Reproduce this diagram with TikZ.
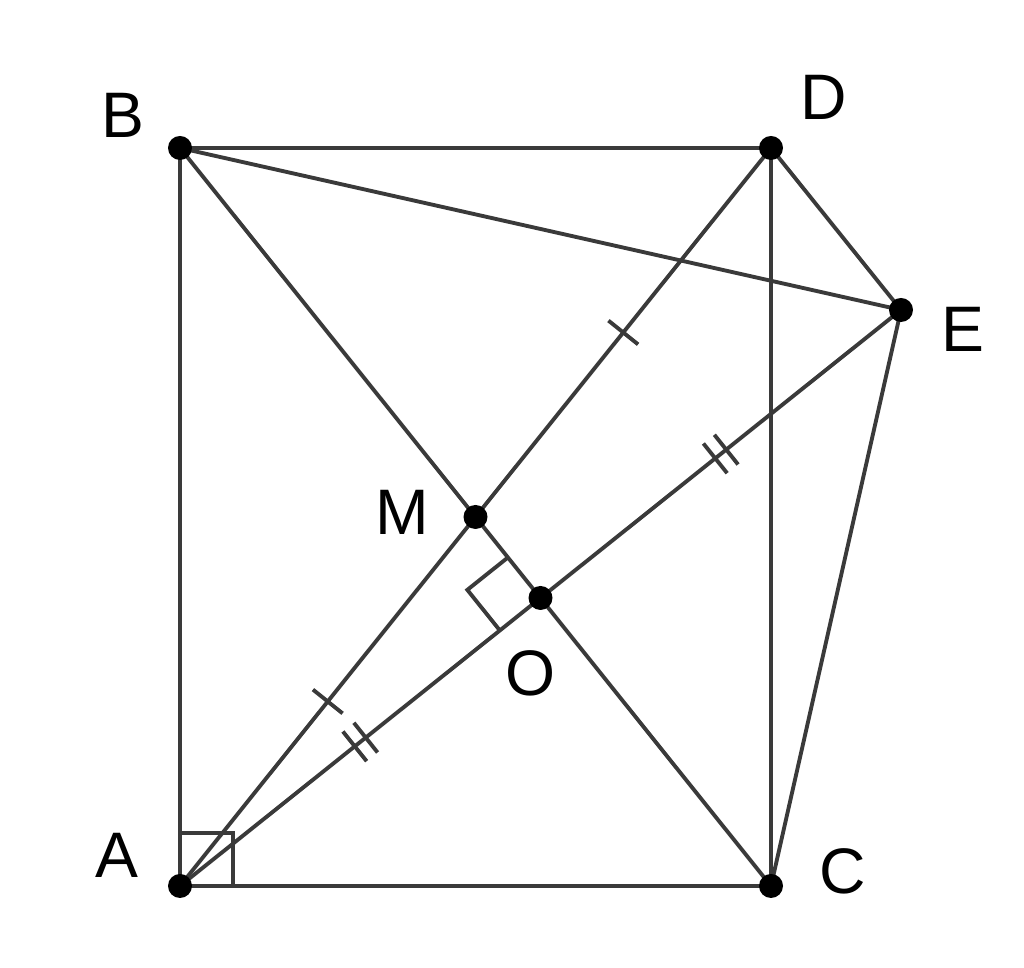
\documentclass[tikz,border=0pt]{standalone}
\usepackage{fontspec}
\setmainfont{Liberation Sans}
\usetikzlibrary{calc}
\definecolor{linegray}{HTML}{3A3A3A}
\tikzset{
  seg/.style={draw=linegray, line width=1.1pt},
  pt/.style={circle, fill=black, inner sep=0pt, minimum size=0.24cm},
  lbl/.style={inner sep=0pt, font=\fontsize{18.3}{20}\selectfont},
  tick/.style={draw=linegray, line width=1.1pt}
}
\begin{document}
\begin{tikzpicture}
\useasboundingbox (0,0) rectangle (10.24,9.68);
\coordinate (A) at (1.80,0.82);
\coordinate (B) at (1.80,8.20);
\coordinate (C) at (7.71,0.82);
\coordinate (D) at (7.71,8.20);
\coordinate (E) at (9.01,6.58);
\coordinate (M) at ($(A)!0.5!(D)$);
\coordinate (O) at ($(A)!0.5!(E)$);
% main segments
\draw[seg] (A) -- (B);
\draw[seg] (B) -- (D);
\draw[seg] (A) -- (C);
\draw[seg] (D) -- (C);
\draw[seg] (B) -- (E);
\draw[seg] (D) -- (E);
\draw[seg] (E) -- (C);
\draw[seg] (B) -- (C);
\draw[seg] (A) -- (D);
\draw[seg] (A) -- (E);
% right angle at A
\draw[seg] (A) rectangle ++(0.53,0.53);
% right angle at O
\coordinate (Om) at ($(O)!0.52cm!(M)$);
\coordinate (Oa) at ($(O)!0.52cm!(A)$);
\coordinate (Oc) at ($(Om)+(Oa)-(O)$);
\draw[seg] (Om) -- (Oc) -- (Oa);
% single ticks
\coordinate (t1) at ($(A)!0.5!(M)$);
\draw[tick] ($(t1)!0.19cm!90:(M)$) -- ($(t1)!0.19cm!-90:(M)$);
\coordinate (t2) at ($(M)!0.5!(D)$);
\draw[tick] ($(t2)!0.19cm!90:(D)$) -- ($(t2)!0.19cm!-90:(D)$);
% double ticks
\coordinate (t3) at ($(A)!0.5!(O)$);
\coordinate (t3a) at ($(t3)!0.07cm!(O)$);
\coordinate (t3b) at ($(t3)!-0.07cm!(O)$);
\draw[tick] ($(t3a)!0.19cm!90:(O)$) -- ($(t3a)!0.19cm!-90:(O)$);
\draw[tick] ($(t3b)!0.19cm!90:(O)$) -- ($(t3b)!0.19cm!-90:(O)$);
\coordinate (t4) at ($(O)!0.5!(E)$);
\coordinate (t4a) at ($(t4)!0.07cm!(E)$);
\coordinate (t4b) at ($(t4)!-0.07cm!(E)$);
\draw[tick] ($(t4a)!0.19cm!90:(E)$) -- ($(t4a)!0.19cm!-90:(E)$);
\draw[tick] ($(t4b)!0.19cm!90:(E)$) -- ($(t4b)!0.19cm!-90:(E)$);
% points
\node[pt] (pA) at (A) {};
\node[pt] (pB) at (B) {};
\node[pt] (pC) at (C) {};
\node[pt] (pD) at (D) {};
\node[pt] (pE) at (E) {};
\node[pt] (pM) at (M) {};
\node[pt] (pO) at (O) {};
% labels
\node[lbl] (lB) at (1.23,8.53) {B};
\node[lbl] (lD) at (8.24,8.71) {D};
\node[lbl] (lE) at (9.63,6.39) {E};
\node[lbl] (lM) at (4.02,4.56) {M};
\node[lbl] (lO) at (5.31,2.95) {O};
\node[lbl] (lA) at (1.17,1.13) {A};
\node[lbl] (lC) at (8.43,0.97) {C};
\end{tikzpicture}
\end{document}
